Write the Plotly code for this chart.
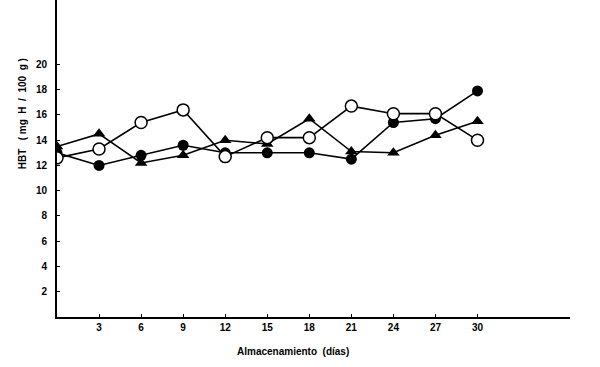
import plotly.graph_objects as go

dias = [0, 3, 6, 9, 12, 15, 18, 21, 24, 27, 30]
abiertos = [12.6, 13.3, 15.4, 16.4, 12.7, 14.2, 14.2, 16.7, 16.1, 16.1, 14.0]
llenos = [13.0, 12.0, 12.8, 13.6, 13.0, 13.0, 13.0, 12.5, 15.4, 15.7, 17.9]
triangulos = [13.5, 14.5, 12.2, 12.8, 14.0, 13.7, 15.7, 13.1, 13.0, 14.4, 15.5]
x_ticks = [3, 6, 9, 12, 15, 18, 21, 24, 27, 30]
y_ticks = [2, 4, 6, 8, 10, 12, 14, 16, 18, 20]

fig = go.Figure()
line = dict(color="black", width=1.6)
fig.add_trace(go.Scatter(x=dias, y=triangulos, mode="lines+markers", line=line,
                         marker=dict(symbol="triangle-up", size=11, color="black"),
                         showlegend=False))
fig.add_trace(go.Scatter(x=dias, y=llenos, mode="lines+markers", line=line,
                         marker=dict(symbol="circle", size=11, color="black"),
                         showlegend=False))
fig.add_trace(go.Scatter(x=dias, y=abiertos, mode="lines+markers", line=line,
                         marker=dict(symbol="circle", size=12, color="white",
                                     line=dict(color="black", width=1.5)),
                         showlegend=False))

font_t = dict(family="Liberation Sans, Arial", size=10, color="black", weight="bold")
fig.update_xaxes(range=[0, 36.6], tickvals=x_ticks, ticktext=[str(v) for v in x_ticks],
                 showline=True, linecolor="black", linewidth=2, showgrid=False,
                 zeroline=False, ticks="inside", ticklen=3, tickcolor="black",
                 tickfont=font_t)
fig.update_yaxes(range=[0, 25.1], tickvals=y_ticks, ticktext=[str(v) for v in y_ticks],
                 showline=True, linecolor="black", linewidth=2, showgrid=False,
                 zeroline=False, ticks="inside", ticklen=3, tickcolor="black",
                 tickfont=font_t, ticklabelstandoff=6)

fig.update_layout(
    width=600, height=367,
    margin=dict(l=57, r=30, t=0, b=50),
    plot_bgcolor="white", paper_bgcolor="white",
    annotations=[
        dict(text="HBT   ( mg  H  /  100  g )", xref="paper", yref="paper",
             x=-0.068, y=0.64, xanchor="center", yanchor="middle",
             textangle=-90, showarrow=False,
             font=dict(family="Liberation Sans, Arial", size=10, color="black", weight="bold")),
        dict(text="Almacenamiento  (días)", xref="paper", yref="paper",
             x=0.46, y=-0.11, xanchor="center", yanchor="middle", showarrow=False,
             font=dict(family="Liberation Sans, Arial", size=10, color="black", weight="bold")),
    ],
)

fig.write_html("out.html", config={"displayModeBar": False},
               post_script="document.body.style.margin='0';")
